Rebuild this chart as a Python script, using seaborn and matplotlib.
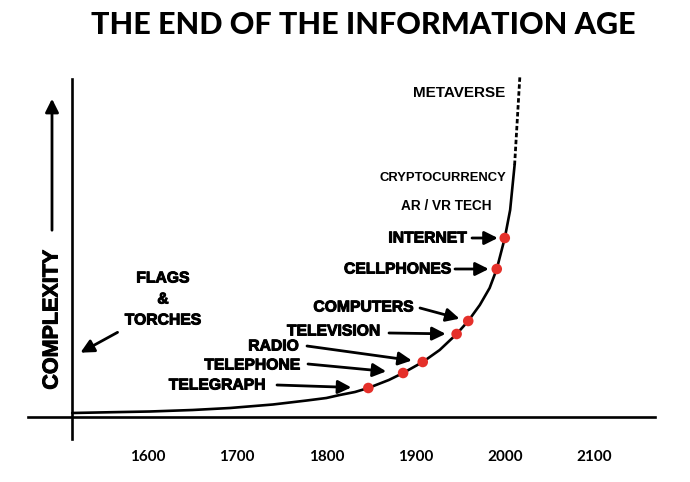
import matplotlib
matplotlib.use('Agg')
import matplotlib.pyplot as plt
import matplotlib.patheffects as pe
import seaborn as sns
import pandas as pd

# ---- data (years vs. relative complexity) ----
years_curve = [1515, 1560, 1602, 1650, 1692, 1740, 1778, 1800, 1815, 1832, 1847, 1870, 1886, 1908,
               1927, 1946, 1959, 1972, 1983, 1991, 2000, 2006, 2011]
complexity_curve = [4, 4.8, 5.5, 7, 9, 12.5, 16.5, 19, 22, 25, 29, 37, 44, 55,
                    67, 83, 96, 112, 129, 148, 179, 207, 252]
future_years = [2011, 2014, 2017]
future_complexity = [252, 297, 342]

milestones = ['TELEGRAPH', 'TELEPHONE', 'RADIO', 'TELEVISION', 'COMPUTERS', 'CELLPHONES', 'INTERNET']
milestone_years = [1847, 1886, 1908, 1946, 1959, 1991, 2000]
milestone_complexity = [29, 44, 55, 83, 96, 148, 179]

future_labels = ['METAVERSE', 'CRYPTOCURRENCY', 'AR / VR TECH']
flags_lines = ['FLAGS', '&', 'TORCHES']
tick_years = [1600, 1700, 1800, 1900, 2000, 2100]
title = 'THE END OF THE INFORMATION AGE'
y_label = 'COMPLEXITY'

sns.set_style('white')
plt.rcParams['font.family'] = ['Liberation Sans', 'DejaVu Sans']
plt.rcParams['text.color'] = 'black'
plt.rcParams['xtick.color'] = 'black'

fig = plt.figure(figsize=(6.9, 4.82), dpi=100)
ax = fig.add_axes([0, 0, 1, 1])

# pixel -> data helper for layout only
X0, SX, Y0 = 1434.08, 1.1211, 417.0
def px(x, y):
    return (X0 + x * SX, Y0 - y)

ax.set_xlim(X0, X0 + 690 * SX)
ax.set_ylim(Y0 - 482, Y0)

curve = pd.DataFrame({'year': years_curve, 'complexity': complexity_curve})
sns.lineplot(data=curve, x='year', y='complexity', color='black', lw=1.9,
             sort=False, estimator=None, ax=ax)
future = pd.DataFrame({'year': future_years, 'complexity': future_complexity})
sns.lineplot(data=future, x='year', y='complexity', color='black', lw=2.0,
             linestyle=(0, (1.6, 0.9)), sort=False, estimator=None, ax=ax)
pts = pd.DataFrame({'name': milestones, 'year': milestone_years, 'complexity': milestone_complexity})
sns.scatterplot(data=pts, x='year', y='complexity', color='#e5302a', s=58,
                edgecolor='none', zorder=5, ax=ax)

# axes styling
for s in ['top', 'right']:
    ax.spines[s].set_visible(False)
ax.spines['bottom'].set_position(('data', 0))
ax.spines['bottom'].set_bounds(px(28, 0)[0], px(655, 0)[0])
ax.spines['left'].set_position(('data', px(72, 0)[0]))
ax.spines['left'].set_bounds(Y0 - 439, Y0 - 79)
for s in ['bottom', 'left']:
    ax.spines[s].set_linewidth(1.9)
    ax.spines[s].set_color('black')
ax.set_xticks(tick_years)
ax.set_xticklabels([str(t) for t in tick_years], fontfamily='Lato', fontweight='bold',
                   fontsize=11, color='black')
ax.tick_params(axis='x', direction='out', length=15.8, width=1.9, pad=8, colors='black')
ax.set_yticks([])
ax.set_xlabel('')
ax.set_ylabel('')

heavy = [pe.withStroke(linewidth=0.7, foreground='black')]

# title
ax.text(*px(363, 25), title, ha='center', va='center', fontfamily='Lato',
        fontweight='black', fontsize=22, color='black')

# y label + arrow
ax.text(*px(52, 320), y_label, rotation=90, ha='center', va='center',
        fontweight='bold', fontsize=15.5, path_effects=heavy)
arrow = dict(arrowstyle='-|>', lw=2, color='black', mutation_scale=20)
ax.annotate('', xy=px(52, 96), xytext=px(52, 233), arrowprops=arrow)

# flags & torches
for line, yy in zip(flags_lines, [278, 299, 320]):
    ax.text(*px(163, yy), line, ha='center', va='center', fontweight='bold', fontsize=11.3,
            path_effects=heavy)
ax.annotate('', xy=px(78, 354), xytext=px(120, 331), arrowprops=arrow)

# milestone labels and arrows
label_pos = [(217, 385), (252, 365), (273.5, 346), (333.5, 331), (363.5, 307), (397.5, 269), (427.5, 238)]
arrow_start = [(277, 385), (308, 364), (307, 346), (389, 333), (420, 308), (455, 269), (472, 238)]
gaps = [17, 17, 11, 11, 9, 8, 7]
for name, yr, cx, lp, st, g in zip(milestones, milestone_years, milestone_complexity,
                                    label_pos, arrow_start, gaps):
    ax.text(*px(*lp), name, ha='center', va='center', fontweight='bold', fontsize=11.3,
            path_effects=heavy)
    ap = dict(arrow)
    ap['shrinkA'] = 0
    ap['shrinkB'] = g * 0.72
    ax.annotate('', xy=(yr, cx), xytext=px(*st), arrowprops=ap)

# future labels
fut_pos = [(459, 93), (443, 178), (446, 206)]
fut_size = [11, 9.4, 9.8]
for lab, p, fs in zip(future_labels, fut_pos, fut_size):
    ax.text(*px(*p), lab, ha='center', va='center', fontweight='bold', fontsize=fs)

fig.savefig('out.png', dpi=100)
